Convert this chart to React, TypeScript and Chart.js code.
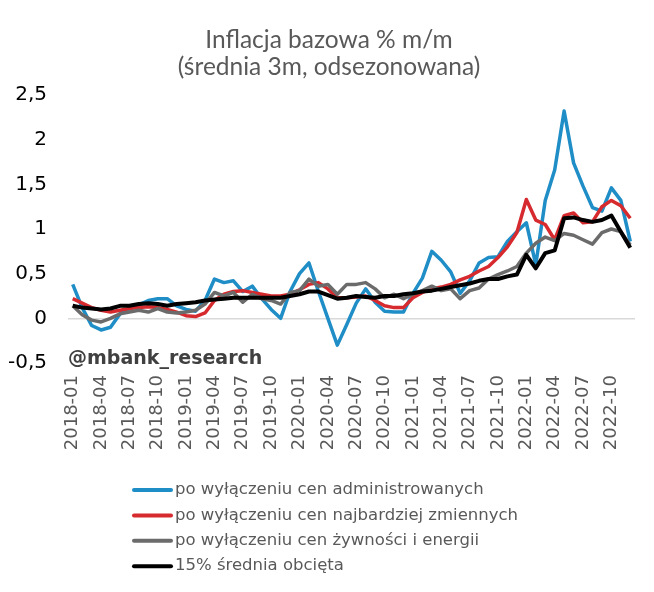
import React, { useEffect, useRef } from "react";
import { Chart, registerables } from "chart.js";

Chart.register(...registerables);

const years = ["2018", "2019", "2020", "2021", "2022"];
const months = ["01", "02", "03", "04", "05", "06", "07", "08", "09", "10", "11", "12"];
const categories = years.flatMap((y) => months.map((m) => `${y}-${m}`));

const titleLines = ["Inflacja bazowa % m/m", "(średnia 3m, odsezonowana)"];
const yTicks = [-0.5, 0, 0.5, 1, 1.5, 2, 2.5];
const watermark = "@mbank_research";

const seriesNames = [
  "po wyłączeniu cen administrowanych",
  "po wyłączeniu cen najbardziej zmiennych",
  "po wyłączeniu cen żywności i energii",
  "15% średnia obcięta",
];

const adminValues = [
  0.38, 0.12, -0.08, -0.13, -0.1, 0.05, 0.11, 0.15, 0.2, 0.22, 0.22, 0.14,
  0.1, 0.08, 0.2, 0.44, 0.4, 0.42, 0.3, 0.36, 0.22, 0.1, 0.0, 0.3,
  0.5, 0.62, 0.3, 0.0, -0.3, -0.07, 0.17, 0.33, 0.18, 0.08, 0.07, 0.07,
  0.28, 0.45, 0.75, 0.65, 0.52, 0.28, 0.42, 0.62, 0.68, 0.69, 0.86, 0.97,
  1.07, 0.6, 1.32, 1.66, 2.32, 1.74, 1.48, 1.24, 1.2, 1.46, 1.32, 0.86,
];

const volatileValues = [
  0.22, 0.17, 0.12, 0.09, 0.07, 0.09, 0.11, 0.12, 0.13, 0.12, 0.1, 0.07,
  0.03, 0.02, 0.06, 0.2, 0.27, 0.3, 0.31, 0.29, 0.27, 0.25, 0.25, 0.27,
  0.32, 0.38, 0.4, 0.33, 0.23, 0.23, 0.24, 0.25, 0.2, 0.14, 0.12, 0.12,
  0.23, 0.29, 0.33, 0.35, 0.38, 0.43, 0.47, 0.53, 0.58, 0.68, 0.8, 0.96,
  1.33, 1.1, 1.05, 0.88, 1.15, 1.18, 1.07, 1.08, 1.25, 1.32, 1.26, 1.12,
];

const foodEnergyValues = [
  0.14, 0.04, -0.02, -0.04, 0.0, 0.05, 0.07, 0.09, 0.07, 0.11, 0.07, 0.06,
  0.07, 0.09, 0.16, 0.29, 0.25, 0.29, 0.18, 0.27, 0.22, 0.2, 0.16, 0.29,
  0.31, 0.44, 0.36, 0.38, 0.27, 0.38, 0.38, 0.4, 0.33, 0.23, 0.27, 0.22,
  0.27, 0.31, 0.36, 0.31, 0.33, 0.22, 0.31, 0.34, 0.44, 0.49, 0.53, 0.58,
  0.73, 0.84, 0.91, 0.87, 0.95, 0.93, 0.88, 0.83, 0.96, 1.0, 0.97, 0.82,
];

const trimmedValues = [
  0.14, 0.12, 0.11, 0.1, 0.11, 0.14, 0.14, 0.16, 0.17, 0.16, 0.14, 0.16,
  0.17, 0.18, 0.2, 0.21, 0.22, 0.23, 0.23, 0.23, 0.23, 0.23, 0.23, 0.25,
  0.27, 0.3, 0.3, 0.26, 0.22, 0.23, 0.25, 0.24, 0.23, 0.25, 0.25, 0.27,
  0.28, 0.3, 0.31, 0.33, 0.35, 0.37, 0.39, 0.42, 0.44, 0.44, 0.47, 0.49,
  0.71, 0.56, 0.73, 0.76, 1.12, 1.13, 1.1, 1.08, 1.1, 1.15, 0.97, 0.79,
];

const seriesValues = [adminValues, volatileValues, foodEnergyValues, trimmedValues];
const seriesColors = ["#1f8dc6", "#d62a2e", "#6b6b6b", "#000000"];
const seriesWidths = [3.5, 3.5, 3.5, 4];
const seriesOrder = [3, 2, 1, 0];

const W = 654;
const H = 592;

export default function App() {
  const ref = useRef<HTMLCanvasElement | null>(null);

  useEffect(() => {
    if (!ref.current) return;

    const extras = {
      id: "extras",
      afterDraw(chart: any) {
        const ctx = chart.ctx;
        const area = chart.chartArea;
        const ys = chart.scales.y;
        ctx.save();
        // title
        ctx.font = "24.5px Lato";
        ctx.fillStyle = "#595959";
        ctx.textAlign = "center";
        ctx.textBaseline = "middle";
        titleLines.forEach((t, i) => ctx.fillText(t, 329, 40 + i * 27.5));
        // watermark
        ctx.font = "bold 19px 'DejaVu Sans'";
        ctx.fillStyle = "#404040";
        ctx.textAlign = "left";
        ctx.textBaseline = "middle";
        ctx.fillText(watermark, area.left, ys.getPixelForValue(-0.5) - 4);
        // legend
        const startY = 490;
        const rowH = 25.4;
        ctx.font = "16.5px 'DejaVu Sans'";
        seriesNames.forEach((name, i) => {
          const y = startY + i * rowH;
          ctx.strokeStyle = seriesColors[i];
          ctx.lineWidth = 4;
          ctx.lineCap = "round";
          ctx.beginPath();
          ctx.moveTo(134, y);
          ctx.lineTo(171, y);
          ctx.stroke();
          ctx.fillStyle = "#595959";
          ctx.fillText(name, 175, y);
        });
        ctx.restore();
      },
    };

    const chart = new Chart(ref.current, {
      type: "line",
      data: {
        labels: categories,
        datasets: seriesNames.map((name, i) => ({
          label: name,
          data: seriesValues[i],
          borderColor: seriesColors[i],
          backgroundColor: seriesColors[i],
          borderWidth: seriesWidths[i],
          pointRadius: 0,
          tension: 0,
          fill: false,
          order: seriesOrder[i],
          borderJoinStyle: "round" as const,
        })),
      },
      options: {
        responsive: false,
        animation: false,
        events: [],
        layout: { padding: { left: 0, right: 19, top: 95, bottom: 129 } },
        plugins: {
          legend: { display: false },
          tooltip: { enabled: false },
          title: { display: false },
        },
        scales: {
          x: {
            offset: true,
            grid: { display: false, drawTicks: false },
            border: { display: false },
            afterFit: (s: any) => {
              s.height = 100;
              s.paddingLeft = 0;
              s.paddingRight = 0;
            },
            ticks: {
              autoSkip: false,
              maxRotation: 90,
              minRotation: 90,
              padding: 12,
              color: "#595959",
              font: { family: "DejaVu Sans", size: 18 },
              callback: (_v: any, i: number) => (i % 3 === 0 ? categories[i] : ""),
            },
          },
          y: {
            min: -0.5,
            max: 2.5,
            afterFit: (s: any) => {
              s.width = 68;
              s.paddingTop = 0;
              s.paddingBottom = 0;
            },
            afterBuildTicks: (s: any) => {
              s.ticks = yTicks.map((v) => ({ value: v }));
            },
            border: { display: false },
            grid: {
              drawTicks: false,
              color: (c: any) => (c.tick && c.tick.value === 0 ? "#d9d9d9" : "rgba(0,0,0,0)"),
              lineWidth: 1.5,
            },
            ticks: {
              padding: 21,
              color: "#000000",
              font: { family: "DejaVu Sans", size: 20 },
              callback: (v: any) => String(v).replace(".", ","),
            },
          },
        },
      },
      plugins: [extras],
    });

    return () => chart.destroy();
  }, []);

  return (
    <div style={{ position: "absolute", left: 0, top: 0, width: W, height: H, background: "#fff" }}>
      <canvas ref={ref} width={W} height={H} style={{ display: "block" }} />
    </div>
  );
}
